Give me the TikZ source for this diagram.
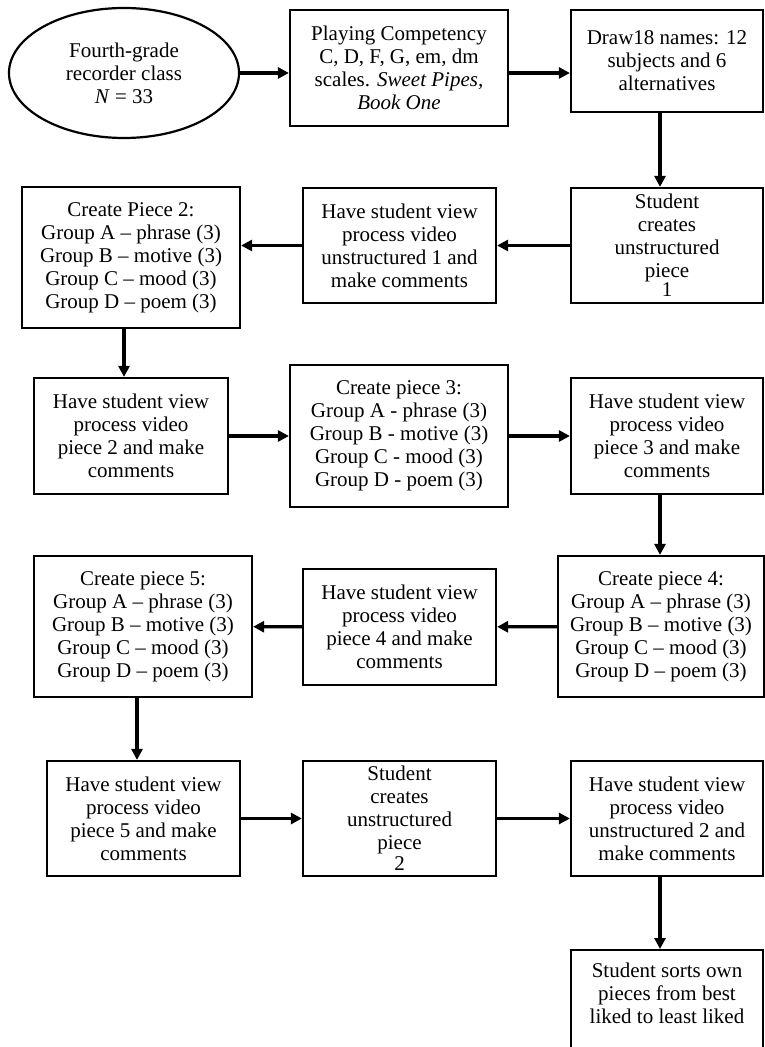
\documentclass[tikz,border=0pt]{standalone}
\usepackage{fontspec}
\setmainfont{Liberation Serif}
\usetikzlibrary{shapes.geometric,arrows.meta}

\begin{document}
\begin{tikzpicture}[x=0.5pt,y=-0.5pt,
        boite/.style={draw,rectangle,line width=1.1pt,align=center,inner sep=2pt,font=\fontsize{10.5}{11.5}\selectfont},
        fleche/.style={line width=1.6pt,-{Triangle[length=5.5pt,width=5.5pt]}}]
    \useasboundingbox (0,0) rectangle (764,1047);

    \node[boite,ellipse,minimum width=115pt,minimum height=65pt] (C) at (124,73) {Fourth-grade\\recorder class\\\textit{N} = 33};
    \node[boite,minimum width=109pt,minimum height=58pt] (PC) at (399,68) {Playing Competency\\C, D, F, G, em, dm\\scales. \textit{Sweet Pipes,}\\\textit{Book One}};
    \node[boite,minimum width=96pt,minimum height=51pt] (D) at (667,61) {Draw18 names: 12\\subjects and 6\\alternatives};

    \node[boite,minimum width=96pt,minimum height=57.5pt] (U1) at (667,245.5) {Student\\creates\\unstructured\\piece\\[-2pt]1};
    \node[boite,minimum width=96.5pt,minimum height=57.5pt] (V1) at (399.5,245.5) {Have student view\\process video\\unstructured 1 and\\make comments};
    \node[boite,minimum width=109pt,minimum height=70.5pt] (P2) at (131,257.5) {Create Piece 2:\\Group A – phrase (3)\\Group B – motive (3)\\Group C – mood (3)\\Group D – poem (3)};

    \node[boite,minimum width=97pt,minimum height=58pt] (V2) at (131,436) {Have student view\\process video\\piece 2 and make\\comments};
    \node[boite,minimum width=109pt,minimum height=71pt] (P3) at (399,436) {Create piece 3:\\Group A - phrase (3)\\Group B - motive (3)\\Group C - mood (3)\\Group D - poem (3)};
    \node[boite,minimum width=96pt,minimum height=58pt] (V3) at (667,436) {Have student view\\process video\\piece 3 and make\\comments};

    \node[boite,minimum width=103pt,minimum height=70.5pt] (P4) at (661,626.5) {Create piece 4:\\Group A – phrase (3)\\Group B – motive (3)\\Group C – mood (3)\\Group D – poem (3)};
    \node[boite,minimum width=96.5pt,minimum height=58pt] (V4) at (399.5,627) {Have student view\\process video\\piece 4 and make\\comments};
    \node[boite,minimum width=109pt,minimum height=70.5pt] (P5) at (143,626.5) {Create piece 5:\\Group A – phrase (3)\\Group B – motive (3)\\Group C – mood (3)\\Group D – poem (3)};

    \node[boite,minimum width=96.5pt,minimum height=57.5pt] (V5) at (143.5,818.5) {Have student view\\process video\\piece 5 and make\\comments};
    \node[boite,minimum width=96.5pt,minimum height=57.5pt] (U2) at (399.5,818.5) {Student\\creates\\unstructured\\piece\\[-1pt]2};
    \node[boite,minimum width=96pt,minimum height=57.5pt] (VU2) at (667,818.5) {Have student view\\process video\\unstructured 2 and\\make comments};

    \node[boite,minimum width=96pt,inner ysep=6.5pt,text depth=50pt,anchor=north] (S) at (667,949) {Student sorts own\\pieces from best\\liked to least liked};

    \draw[fleche] (C.east) -- (C.east -| PC.west);
    \draw[fleche] (C.east -| PC.east) -- (C.east -| D.west);
    \draw[fleche] ([xshift=-3.5pt]D.south) -- ([xshift=-3.5pt]U1.north);

    \draw[fleche] (U1) -- (V1);
    \draw[fleche] (V1) -- (V1 -| P2.east);
    \draw[fleche] ([xshift=-3.5pt]P2.south) -- ([xshift=-3.5pt]V2.north);

    \draw[fleche] (V2) -- (P3);
    \draw[fleche] (P3) -- (V3);
    \draw[fleche] ([xshift=-3.5pt]V3.south) -- ([xshift=-3.5pt]V3.south |- P4.north);

    \draw[fleche] (P4) -- (V4);
    \draw[fleche] (V4) -- (P5);
    \draw[fleche] ([xshift=-3pt]P5.south) -- ([xshift=-3pt]P5.south |- V5.north);

    \draw[fleche] (V5) -- (U2);
    \draw[fleche] (U2) -- (VU2);
    \draw[fleche] ([xshift=-3.5pt]VU2.south) -- ([xshift=-3.5pt]S.north);
\end{tikzpicture}
\end{document}
